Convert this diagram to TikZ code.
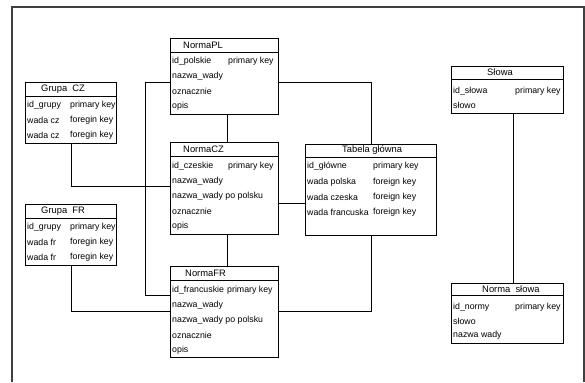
\documentclass[tikz,border=0pt]{standalone}
\usepackage{fontspec}
\setmainfont{Liberation Sans}
\usetikzlibrary{calc}

\begin{document}
\begin{tikzpicture}[x=0.03cm,y=-0.03cm]

		% Style tabel
		\tikzset{
			tabela/.style n args={2}{
				draw,
				line width=0.9pt,
				anchor=north west,
				inner sep=0pt,
				minimum width=#1*0.03cm,
				minimum height=#2*0.03cm
			},
			tytul/.style={anchor=west, inner sep=0pt, font=\fontsize{8}{9}\selectfont},
			pole/.style={anchor=west, inner sep=0pt, font=\fontsize{7.5}{8}\selectfont},
			linia/.style={line width=0.8pt}
		}

		\useasboundingbox (0,0) rectangle (585,382);

		% Ramka
		\draw[gray!50!black, line width=1pt] (12,382) -- (12,7) -- (584,7) -- (584,382);

		% Tabele
		\node[tabela={108}{76}] (PL) at (170,38) {};
		\node[tabela={91}{61}] (GCZ) at (25,82) {};
		\node[tabela={108}{92}] (CZ) at (170,142) {};
		\node[tabela={131}{91}] (TG) at (305,144) {};
		\node[tabela={91}{61}] (GFR) at (25,204) {};
		\node[tabela={108}{91}] (FR) at (170,266) {};
		\node[tabela={112}{47}] (S) at (451,66) {};
		\node[tabela={112}{60}] (NS) at (451,283) {};

		% Linie pod tytulami
		\draw[linia] ($(PL.north west)+(0,14)$) -- ($(PL.north east)+(0,14)$);
		\draw[linia] ($(GCZ.north west)+(0,14)$) -- ($(GCZ.north east)+(0,14)$);
		\draw[linia] ($(CZ.north west)+(0,14)$) -- ($(CZ.north east)+(0,14)$);
		\draw[linia] ($(TG.north west)+(0,13)$) -- ($(TG.north east)+(0,13)$);
		\draw[linia] ($(GFR.north west)+(0,14)$) -- ($(GFR.north east)+(0,14)$);
		\draw[linia] ($(FR.north west)+(0,14)$) -- ($(FR.north east)+(0,14)$);
		\draw[linia] ($(S.north west)+(0,13)$) -- ($(S.north east)+(0,13)$);
		\draw[linia] ($(NS.north west)+(0,12)$) -- ($(NS.north east)+(0,12)$);

		% NormaPL
		\node[tytul] (PL-t) at (183,45) {NormaPL};
		\node[pole] (PL-1) at (172,61) {id\_polskie};
		\node[pole] (PL-1k) at (228,61) {primary key};
		\node[pole] (PL-2) at (172,76) {nazwa\_wady};
		\node[pole] (PL-3) at (172,91) {oznacznie};
		\node[pole] (PL-4) at (172,106) {opis};

		% Grupa CZ
		\node[tytul] (GCZ-t) at (41,89) {Grupa\ \ CZ};
		\node[pole] (GCZ-1) at (27,105) {id\_grupy};
		\node[pole] (GCZ-1k) at (70,105) {primary key};
		\node[pole] (GCZ-2) at (27,120) {wada cz};
		\node[pole] (GCZ-2k) at (70,120) {foregin key};
		\node[pole] (GCZ-3) at (27,135) {wada cz};
		\node[pole] (GCZ-3k) at (70,135) {foregin key};

		% NormaCZ
		\node[tytul] (CZ-t) at (183,149) {NormaCZ};
		\node[pole] (CZ-1) at (172,166) {id\_czeskie};
		\node[pole] (CZ-1k) at (228,166) {primary key};
		\node[pole] (CZ-2) at (172,181) {nazwa\_wady};
		\node[pole] (CZ-3) at (172,196) {nazwa\_wady po polsku};
		\node[pole] (CZ-4) at (172,211) {oznacznie};
		\node[pole] (CZ-5) at (172,226) {opis};

		% Tabela glowna
		\node[tytul] (TG-t) at (342,150.5) {Tabela główna};
		\node[pole] (TG-1) at (307,166) {id\_główne};
		\node[pole] (TG-1k) at (373,166) {primary key};
		\node[pole] (TG-2) at (307,182) {wada polska};
		\node[pole] (TG-2k) at (373,182) {foreign key};
		\node[pole] (TG-3) at (307,197) {wada czeska};
		\node[pole] (TG-3k) at (373,197) {foreign key};
		\node[pole] (TG-4) at (307,212) {wada francuska};
		\node[pole] (TG-4k) at (373,212) {foreign key};

		% Grupa FR
		\node[tytul] (GFR-t) at (41,211) {Grupa\ \ FR};
		\node[pole] (GFR-1) at (27,227) {id\_grupy};
		\node[pole] (GFR-1k) at (70,227) {primary key};
		\node[pole] (GFR-2) at (27,242) {wada fr};
		\node[pole] (GFR-2k) at (70,242) {foregin key};
		\node[pole] (GFR-3) at (27,257) {wada fr};
		\node[pole] (GFR-3k) at (70,257) {foregin key};

		% NormaFR
		\node[tytul] (FR-t) at (185,273) {NormaFR};
		\node[pole] (FR-1) at (172,290) {id\_francuskie};
		\node[pole] (FR-1k) at (227,290) {primary key};
		\node[pole] (FR-2) at (172,305) {nazwa\_wady};
		\node[pole] (FR-3) at (172,320) {nazwa\_wady po polsku};
		\node[pole] (FR-4) at (172,335) {oznacznie};
		\node[pole] (FR-5) at (172,350) {opis};

		% Slowa
		\node[tytul] (S-t) at (487,72.5) {Słowa};
		\node[pole] (S-1) at (453,91) {id\_słowa};
		\node[pole] (S-1k) at (515,91) {primary key};
		\node[pole] (S-2) at (453,105) {słowo};

		% Norma slowa
		\node[tytul] (NS-t) at (482,289) {Norma\ \ słowa};
		\node[pole] (NS-1) at (453,307) {id\_normy};
		\node[pole] (NS-1k) at (515,307) {primary key};
		\node[pole] (NS-2) at (453,321) {słowo};
		\node[pole] (NS-3) at (453,335) {nazwa wady};

		% Polaczenia
		\coordinate (cz-tg) at ($(CZ.north east)+(0,61)$);
		\draw[linia] ($(PL.north west)+(0,44)$) -- ++(-25,0) |- ($(FR.north west)+(0,29)$);
		\draw[linia] ($(PL.north east)+(0,44)$) -| (TG.north);
		\draw[linia] ($(PL.south)+(3,0)$) -- ($(CZ.north)+(3,0)$);
		\draw[linia] ($(CZ.south)+(3,0)$) -- ($(FR.north)+(3,0)$);
		\draw[linia] (GCZ.south) |- ($(CZ.north west)+(0,44)$);
		\draw[linia] (cz-tg) -- (cz-tg -| TG.west);
		\draw[linia] (GFR.south) |- ($(FR.north west)+(0,45)$);
		\draw[linia] ($(FR.north east)+(0,45)$) -| (TG.south);
		\draw[linia] ($(S.south)+(6,0)$) -- ($(NS.north)+(6,0)$);

	\end{tikzpicture}
\end{document}
